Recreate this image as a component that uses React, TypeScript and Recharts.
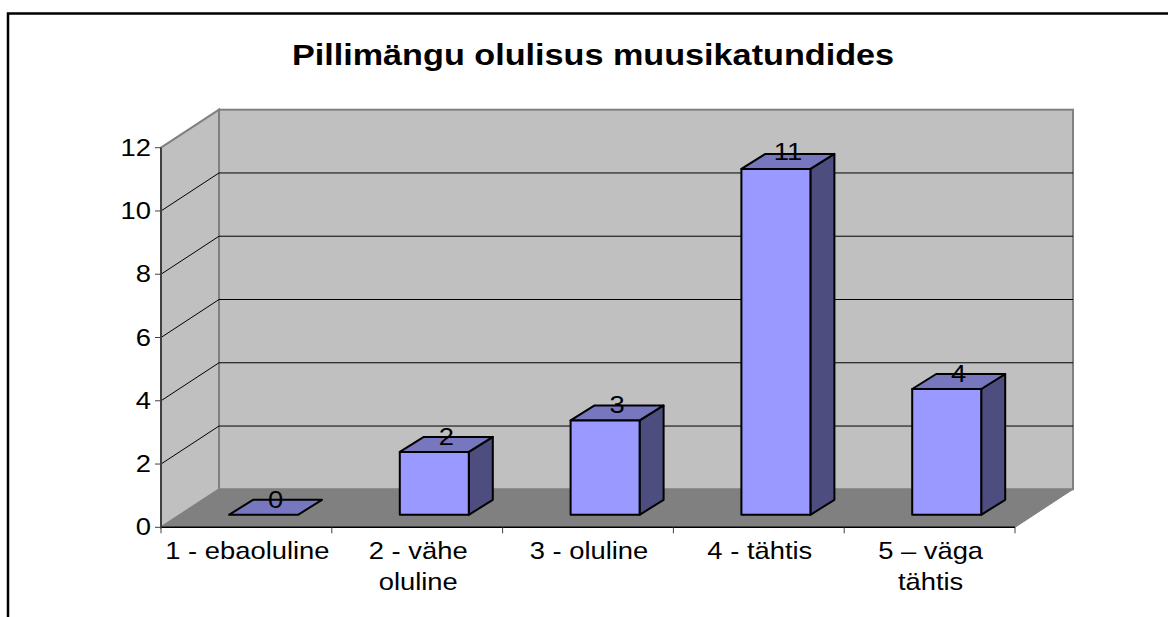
import { BarChart, Bar, XAxis, YAxis, LabelList } from 'recharts';

const categories = [['1 - ebaoluline'], ['2 - vähe', 'oluline'], ['3 - oluline'], ['4 - tähtis'], ['5 – väga', 'tähtis']];
const values = [0, 2, 3, 11, 4];
const yTicks = [0, 2, 4, 6, 8, 10, 12];
const title = 'Pillimängu olulisus muusikatundides';

const data = categories.map((lines, i) => ({ name: lines.join(' '), lines, value: values[i] }));

const FONT = '"Liberation Sans", Arial, sans-serif';
const WIDTH = 1168;
const HEIGHT = 617;
// front plane of the 3D box
const LEFT = 161;
const RIGHT = 1015;
const TOP = 147.7;
const BOTTOM = 527.3;
// how far the back wall sits from the front plane
const DEPTH_X = 58;
const DEPTH_Y = -38;
// bars stand part way into the floor, so they come out slightly smaller
const BAR_DX = 17;
const BAR_DY = -12.5;
const BAR_SHRINK = 0.994;
const BAR_WIDTH = 69;
const SIDE_X = 24;
const SIDE_Y = -15;
const STRETCH = 1.14;
const TEXT_SIZE = 24;

const yFor = (v: number) => BOTTOM - ((BOTTOM - TOP) * v) / 12;

// the reference is stretched sideways, so the text is too
function WideText({ x, y, size, bold, children }: any) {
  return (
    <text
      transform={`translate(${x},${y}) scale(${STRETCH},1)`}
      textAnchor="middle"
      fontFamily={FONT}
      fontSize={size}
      fontWeight={bold ? 'bold' : 'normal'}
      fill="#000"
    >
      {children}
    </text>
  );
}

function Walls() {
  const backLeft = LEFT + DEPTH_X;
  const backRight = RIGHT + DEPTH_X;
  const backTop = TOP + DEPTH_Y;
  const backBottom = BOTTOM + DEPTH_Y;
  return (
    <g>
      {/* the frame is cut off by the crop: only top and left edges show */}
      <path d={`M8 617 V13.5 H${WIDTH}`} fill="none" stroke="#000" strokeWidth={2.5} />
      <WideText x={593} y={65} size={30} bold>{title}</WideText>
      <rect x={backLeft} y={backTop} width={backRight - backLeft} height={backBottom - backTop} fill="#C0C0C0" stroke="#808080" strokeWidth={2} />
      <polygon
        points={`${LEFT},${TOP} ${backLeft},${backTop} ${backLeft},${backBottom} ${LEFT},${BOTTOM}`}
        fill="#C0C0C0"
        stroke="#808080"
        strokeWidth={2}
      />
      <polygon
        points={`${LEFT},${BOTTOM} ${backLeft},${backBottom} ${backRight},${backBottom} ${RIGHT},${BOTTOM}`}
        fill="#808080"
        stroke="#808080"
      />
      {yTicks.slice(1, -1).map((v) => (
        <g key={v} stroke="#000" strokeWidth={1}>
          <line x1={LEFT} y1={yFor(v)} x2={backLeft} y2={yFor(v) + DEPTH_Y} />
          <line x1={backLeft} y1={yFor(v) + DEPTH_Y} x2={backRight} y2={yFor(v) + DEPTH_Y} />
        </g>
      ))}
    </g>
  );
}

function Box3D({ x, y, width, height }: any) {
  const fx = x + BAR_DX;
  const h = height * BAR_SHRINK;
  const bottom = y + height + BAR_DY;
  const fy = bottom - h;
  const style = { stroke: '#000', strokeWidth: 2, strokeLinejoin: 'round' as const };
  return (
    <g>
      {h > 0 && (
        <polygon
          points={`${fx + width},${fy} ${fx + width + SIDE_X},${fy + SIDE_Y} ${fx + width + SIDE_X},${bottom + SIDE_Y} ${fx + width},${bottom}`}
          fill="#4D4D80"
          {...style}
        />
      )}
      <polygon
        points={`${fx},${fy} ${fx + SIDE_X},${fy + SIDE_Y} ${fx + width + SIDE_X},${fy + SIDE_Y} ${fx + width},${fy}`}
        fill="#7777BF"
        {...style}
      />
      {h > 0 && <rect x={fx} y={fy} width={width} height={h} fill="#9999FF" {...style} />}
    </g>
  );
}

function ValueLabel({ x, y, width, value }: any) {
  return (
    <WideText x={x + width / 2 + BAR_DX + 12} y={y + BAR_DY - 6.5} size={TEXT_SIZE}>
      {value}
    </WideText>
  );
}

function CategoryTick({ x, y, index, payload }: any) {
  const band = (RIGHT - LEFT) / categories.length;
  const lines = data.find((d) => d.name === payload.value)?.lines ?? [];
  return (
    <g>
      {index === 0 && <line x1={x - band / 2} y1={BOTTOM} x2={x - band / 2} y2={BOTTOM + 6} stroke="#404040" />}
      <line x1={x + band / 2} y1={BOTTOM} x2={x + band / 2} y2={BOTTOM + 6} stroke="#404040" />
      {lines.map((line: string, i: number) => (
        <WideText key={line} x={x + 1} y={y + 25.5 + i * 31} size={TEXT_SIZE}>
          {line}
        </WideText>
      ))}
    </g>
  );
}

function ValueTick({ x, y, payload }: any) {
  return (
    <text
      transform={`translate(${x},${y + 8}) scale(${STRETCH},1)`}
      textAnchor="end"
      fontFamily={FONT}
      fontSize={TEXT_SIZE}
      fill="#000"
    >
      {payload.value}
    </text>
  );
}

export default function App() {
  return (
    <div style={{ position: 'absolute', left: 0, top: 0, width: WIDTH, height: HEIGHT, background: '#fff' }}>
      <BarChart
        width={WIDTH}
        height={HEIGHT}
        data={data}
        margin={{ left: LEFT - 60, right: WIDTH - RIGHT, top: TOP, bottom: HEIGHT - BOTTOM - 60 }}
        barSize={BAR_WIDTH}
      >
        <Walls />
        <XAxis
          dataKey="name"
          height={60}
          interval={0}
          axisLine={{ stroke: '#000', strokeWidth: 1.5 }}
          tickLine={false}
          tickMargin={0}
          tick={CategoryTick}
        />
        <YAxis
          width={60}
          domain={[0, 12]}
          ticks={yTicks}
          interval={0}
          axisLine={{ stroke: '#404040', strokeWidth: 2 }}
          tickLine={{ stroke: '#404040' }}
          tickSize={6}
          tickMargin={4}
          tick={ValueTick}
        />
        <Bar dataKey="value" shape={Box3D} isAnimationActive={false}>
          <LabelList dataKey="value" content={ValueLabel} />
        </Bar>
      </BarChart>
    </div>
  );
}
